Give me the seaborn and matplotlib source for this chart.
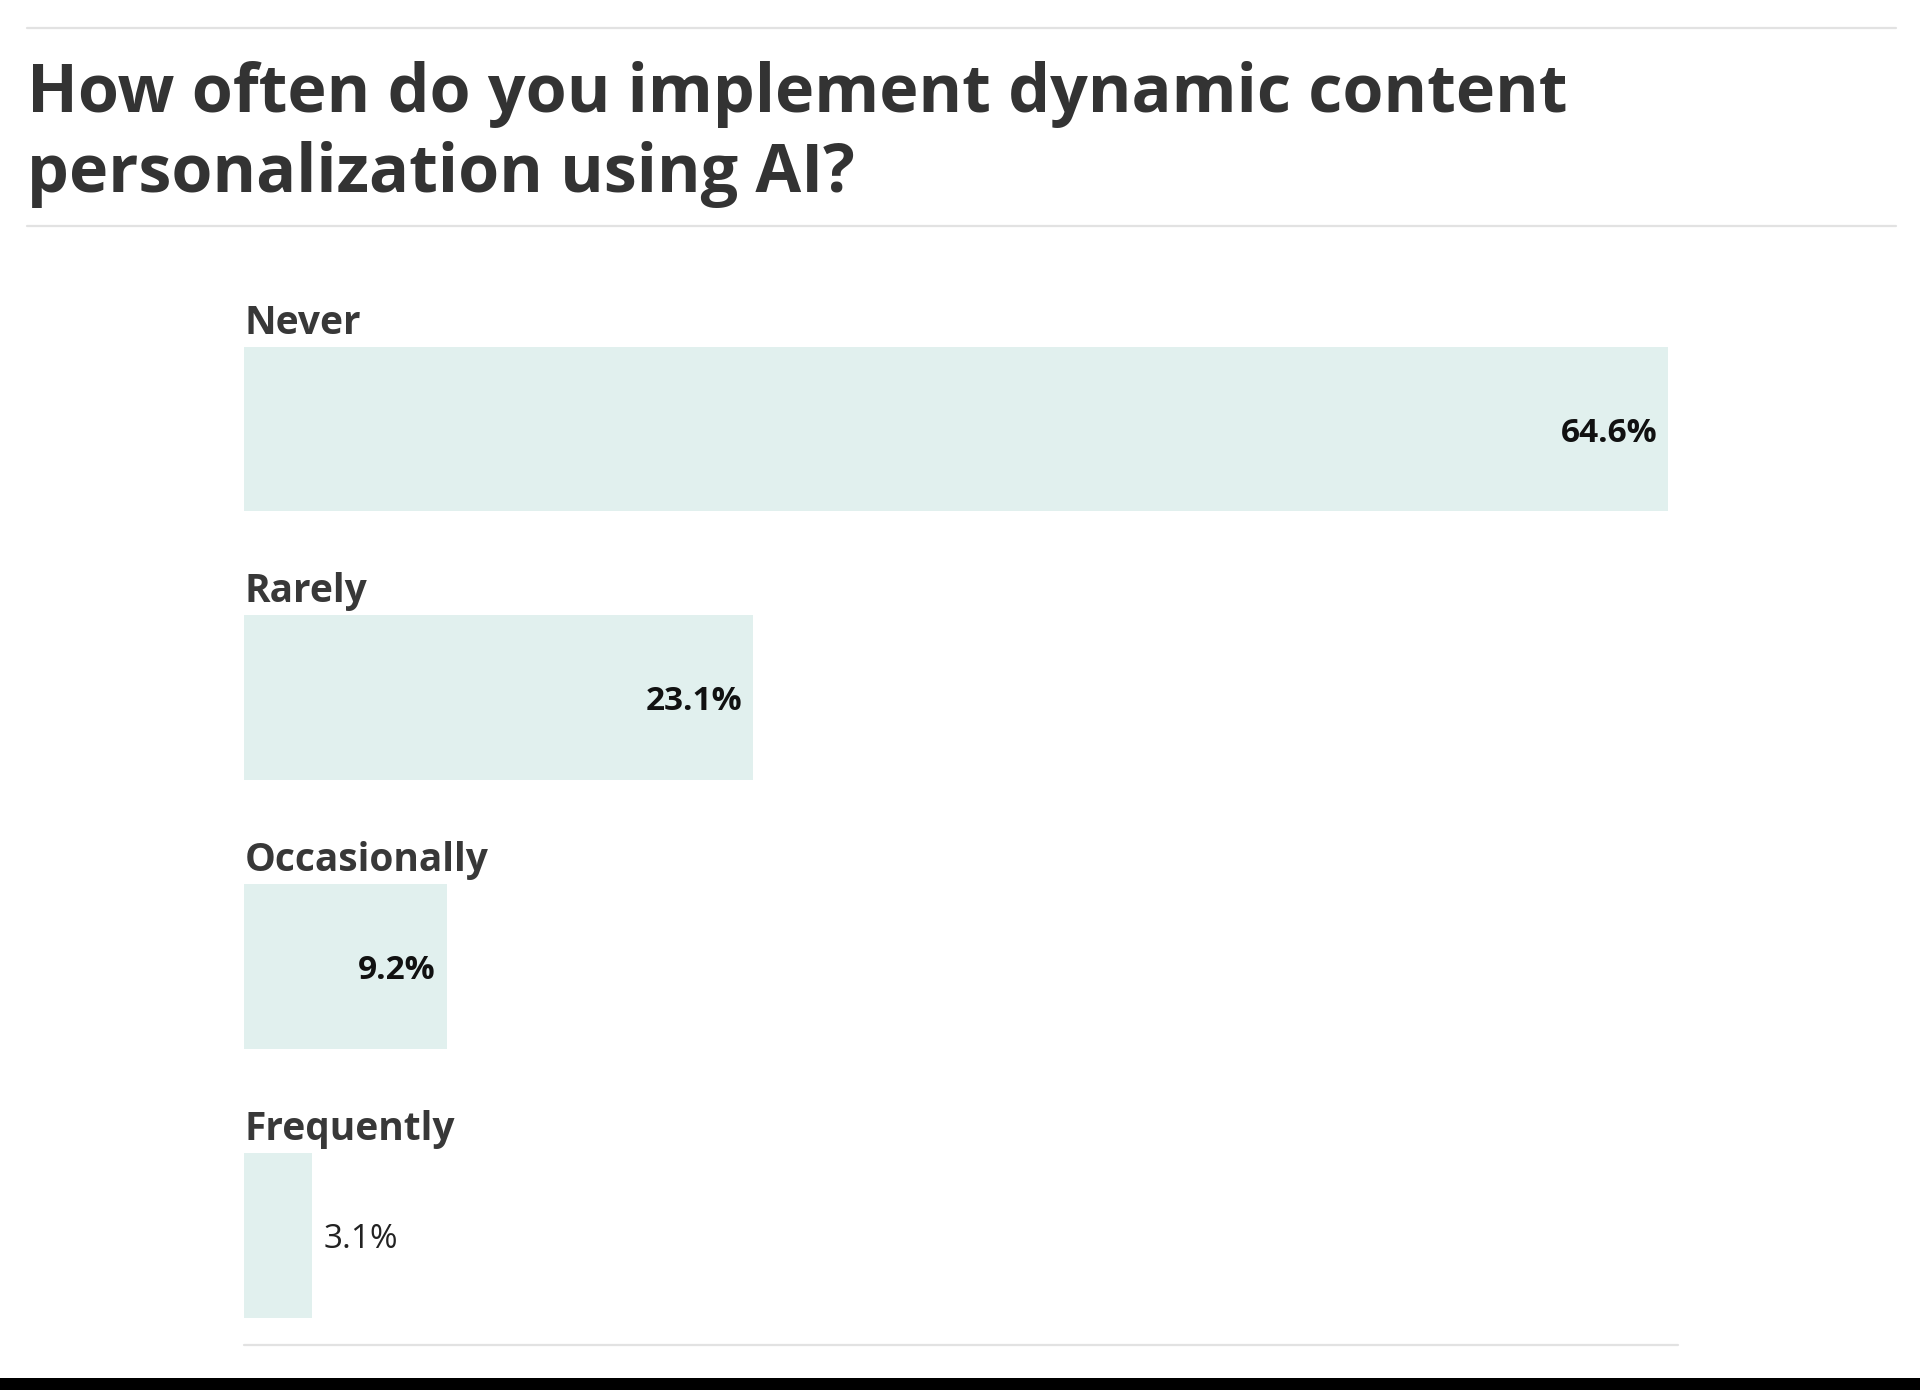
import matplotlib
matplotlib.use("Agg")
import matplotlib.pyplot as plt
import matplotlib.transforms as mtransforms
from matplotlib.lines import Line2D
from matplotlib.patches import Rectangle
import seaborn as sns
import pandas as pd

# ---- data ----
categories = ["Never", "Rarely", "Occasionally", "Frequently"]
values = [64.6, 23.1, 9.2, 3.1]
value_labels = ["64.6%", "23.1%", "9.2%", "3.1%"]
title_lines = ["How often do you implement dynamic content",
               "personalization using AI?"]

BAR_COLOR = "#e1f0ee"
TEXT_DARK = "#333333"
RULE = "#e2e2e2"

sns.set_theme(style="white")
plt.rcParams["font.family"] = ["Open Sans", "DejaVu Sans"]

W, H = 1920, 1390
fig = plt.figure(figsize=(W / 100, H / 100), dpi=100)
fig.patch.set_facecolor("white")

def fx(px):
    return px / W

def fy(py):
    return 1 - py / H

# axes geometry (pixels)
left_px, right_px = 244, 1668
c0, pitch = 429, 268.7
top_px = c0 - 0.5 * pitch
bot_px = c0 + 3.5 * pitch
ax = fig.add_axes([fx(left_px), fy(bot_px), fx(right_px - left_px), (bot_px - top_px) / H])

df = pd.DataFrame({"category": categories, "value": values})
bar_w = 165 / pitch
sns.barplot(data=df, x="value", y="category", orient="h", color=BAR_COLOR,
            width=bar_w, ax=ax, saturation=1, edgecolor="none")
ax.set_xlim(0, max(values))
ax.set_ylim(len(categories) - 0.5, -0.5)
ax.axis("off")

lab_tr = mtransforms.offset_copy(ax.transData, fig=fig, x=1, y=13, units="dots")
in_tr = mtransforms.offset_copy(ax.transData, fig=fig, x=-11, y=0, units="dots")
out_tr = mtransforms.offset_copy(ax.transData, fig=fig, x=11, y=0, units="dots")

for i, (cat, v, lab) in enumerate(zip(categories, values, value_labels)):
    ax.text(0, i - bar_w / 2, cat, transform=lab_tr, ha="left", va="baseline",
            fontsize=28, fontweight="bold", color="#383838", clip_on=False)
    if v > 5:
        ax.text(v, i, lab, transform=in_tr, ha="right", va="center_baseline",
                fontsize=24, fontweight="bold", color="#111111")
    else:
        ax.text(v, i, lab, transform=out_tr, ha="left", va="center_baseline",
                fontsize=24, fontweight="normal", color="#222222")

# title
fig.text(fx(27), fy(112), title_lines[0], ha="left", va="baseline",
         fontsize=47.8, fontweight="bold", color=TEXT_DARK)
fig.text(fx(27), fy(192), title_lines[1], ha="left", va="baseline",
         fontsize=47.8, fontweight="bold", color=TEXT_DARK)

# rules
for y, x0, x1 in [(28, 27, 1896), (226, 27, 1896), (1345, 244, 1678)]:
    fig.add_artist(Line2D([fx(x0), fx(x1)], [fy(y), fy(y)], color=RULE, lw=1.6,
                          transform=fig.transFigure))

# black band at bottom
fig.add_artist(Rectangle((0, 0), 1, (H - 1378) / H, transform=fig.transFigure,
                         facecolor="black", edgecolor="none"))

fig.savefig("out.png", dpi=100, facecolor="white")
